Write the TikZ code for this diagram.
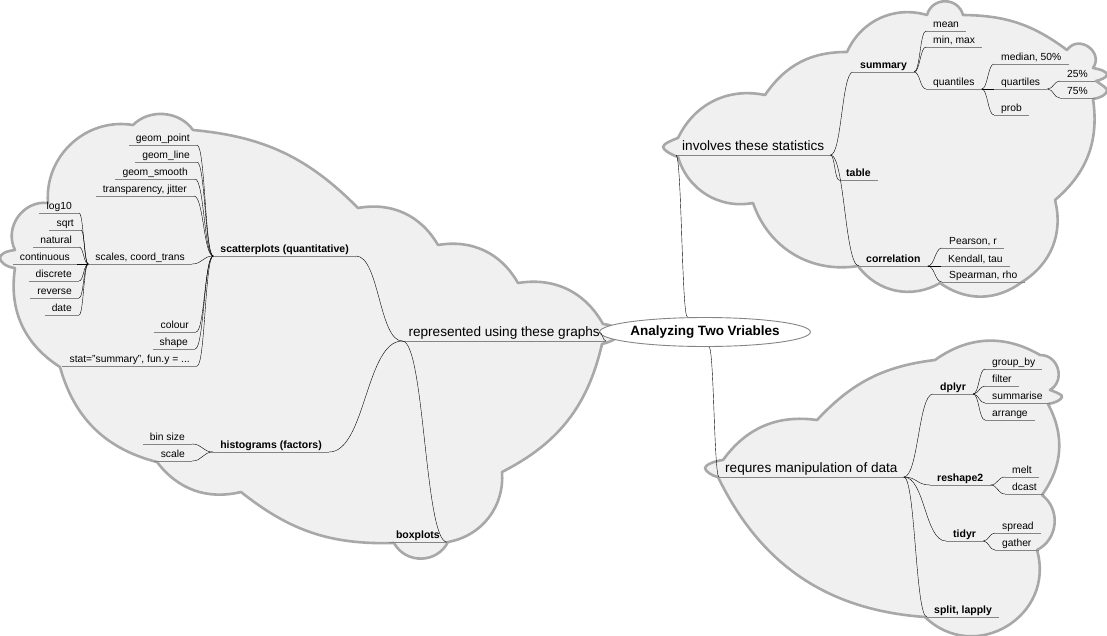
\documentclass[tikz,border=0pt]{standalone}
\usepackage{fontspec}
\setmainfont{Liberation Sans}
\usetikzlibrary{calc,shapes.geometric}
\definecolor{cloudline}{HTML}{A8A8A8}
\definecolor{cloudfill}{HTML}{F0F0F0}
\definecolor{edgec}{HTML}{858585}
\begin{document}
\begin{tikzpicture}[x=1pt,y=-1pt,
  cloud/.style={draw=cloudline,fill=cloudfill,line width=2.6pt,line join=round},
  lb/.style={bend left=#1},
  uline/.style={draw=edgec,line width=0.9pt},
  conn/.style={draw=edgec,line width=0.9pt,to path={let \p1=(\tikztostart), \p2=(\tikztotarget), \n1={(\x2-\x1)/2}, \n2={(\x1-\x2)/2} in .. controls +(\n1,0pt) and +(\n2,0pt) .. (\tikztotarget)}},
  base/.style={inner xsep=7pt, inner ysep=1pt, text height=7.6pt, text depth=2.2pt,
     font=\fontsize{10.3}{12}\selectfont,
     append after command={\pgfextra{\let\mynode\tikzlastnode} (\mynode.south west) edge[uline] (\mynode.south east)}},
  bold/.style={base,font=\fontsize{10.5}{12}\bfseries},
  big/.style={base,inner xsep=6pt,text height=10pt,text depth=3pt,font=\fontsize{13.6}{16}\selectfont},
  ls/.style={anchor=south east},
  rs/.style={anchor=south west},
  root/.style={ellipse,draw=edgec,line width=0.9pt,fill=white,minimum width=176pt,minimum height=29pt,inner sep=0pt,font=\fontsize{13.5}{16}\bfseries}
]
\useasboundingbox (0,0) rectangle (1107,635);

% ---------- clouds ----------
\draw[cloud] (48,203)
  to[lb=52,looseness=1.05] (133,125)
  to[lb=50] (193,130)
  to[lb=20] (358,208)
  to[lb=35] (438,245)
  to[lb=35] (518,283)
  to[lb=35] (603,324)
  .. controls (618,325) and (630,337) .. (602,344)
  to[lb=25] (502,472)
  to[lb=42] (448,542)
  to[lb=62,looseness=1.15] (394,543)
  to[lb=20] (241,492)
  to[lb=33] (157,462)
  to[lb=30] (60,367)
  to[lb=33] (15,268)
  .. controls (6,267) and (0,262) .. (0,258) .. controls (0,254) and (6,251) .. (15,250)
  to[lb=62,looseness=1.12] (48,203)
  -- cycle;

\draw[cloud] (678,138)
  to[lb=38] (765,95)
  to[lb=28] (847,52)
  to[lb=41] (927,15)
  to[lb=75,looseness=1.35] (963,15)
  to[lb=18] (1067,50)
  to[lb=90,looseness=1.6] (1093,68)
  .. controls (1100,69) and (1108,72) .. (1107,75) .. controls (1106,78) and (1100,80) .. (1096,81)
  .. controls (1100,84) and (1108,88) .. (1107,91) .. controls (1106,95) and (1100,98) .. (1093,99)
  to[lb=29] (1055,200)
  to[lb=36] (1022,282)
  to[lb=36] (940,283)
  to[lb=42] (858,266)
  to[lb=40] (753,203)
  to[lb=42] (678,157)
  .. controls (672,155) and (663,150) .. (663,147) .. controls (663,144) and (672,140) .. (678,138)
  -- cycle;

\draw[cloud] (723,460)
  to[lb=31] (817,420)
  to[lb=20] (935,360)
  to[lb=33] (1040,355)
  to[lb=75,looseness=1.3] (1050,390)
  .. controls (1056,392) and (1063,395) .. (1062,397) .. controls (1061,400) and (1055,403) .. (1048,404)
  to[lb=32] (1042,495)
  to[lb=58,looseness=1.1] (1037,550)
  to[lb=75,looseness=1.35] (925,617)
  to[lb=30] (718,477)
  .. controls (712,476) and (705,471) .. (705,468) .. controls (705,465) and (714,461) .. (723,460)
  -- cycle;

% ---------- root ----------
\node[root] (root) at (705,332) {Analyzing Two Vriables};

% ---------- left tree ----------
\node[big,ls] (repr) at (606,341) {represented using these graphs};
\node[bold,ls] (scat) at (356,256) {scatterplots (quantitative)};
\node[bold,ls] (hist) at (329,452) {histograms (factors)};
\node[bold,ls] (boxp) at (447,542) {boxplots};

\node[base,ls] (gpoint) at (197,145) {geom\_point};
\node[base,ls] (gline) at (197,162) {geom\_line};
\node[base,ls] (gsmooth) at (195,179) {geom\_smooth};
\node[base,ls] (transp) at (194,196) {transparency, jitter};
\node[base,ls] (scales) at (192,264) {scales, coord\_trans};
\node[base,ls] (colour) at (196,332) {colour};
\node[base,ls] (shape) at (195,349) {shape};
\node[base,ls] (stat) at (197,366) {stat="summary", fun.y = ...};

\node[base,ls] (log) at (79,213) {log10};
\node[base,ls] (sqrt) at (81,230) {sqrt};
\node[base,ls] (natural) at (79,247) {natural};
\node[base,ls] (contin) at (77,264) {continuous};
\node[base,ls] (discrete) at (79,281) {discrete};
\node[base,ls] (reverse) at (79,298) {reverse};
\node[base,ls] (date) at (79,315) {date};

\node[base,ls] (bin) at (192,444) {bin size};
\node[base,ls] (hscale) at (192,461) {scale};

% ---------- upper right tree ----------
\node[big,rs] (invol) at (676,155) {involves these statistics};
\node[bold,rs] (summary) at (853,72) {summary};
\node[bold,rs] (table) at (839,180) {table};
\node[bold,rs] (correl) at (859,266) {correlation};
\node[base,rs] (mean) at (926,31) {mean};
\node[base,rs] (minmax) at (926,47) {min, max};
\node[base,rs] (quant) at (926,89) {quantiles};
\node[base,rs] (median) at (994,64) {median, 50\%};
\node[base,rs] (quart) at (994,89) {quartiles};
\node[base,rs] (prob) at (994,115) {prob};
\node[base,rs] (qa) at (1060,81) {25\%};
\node[base,rs] (qb) at (1060,98) {75\%};
\node[base,rs] (pearson) at (942,248) {Pearson, r};
\node[base,rs] (kendall) at (941,266) {Kendall, tau};
\node[base,rs] (spearman) at (942,282) {Spearman, rho};

% ---------- lower right tree ----------
\node[big,rs] (requ) at (719,477) {requres manipulation of data};
\node[bold,rs] (dplyr) at (933,394) {dplyr};
\node[bold,rs] (reshape) at (930,485) {reshape2};
\node[bold,rs] (tidyr) at (946,541) {tidyr};
\node[bold,rs] (split) at (927,617) {split, lapply};
\node[base,rs] (groupby) at (985,369) {group\_by};
\node[base,rs] (filter) at (985,386) {filter};
\node[base,rs] (summarise) at (985,403) {summarise};
\node[base,rs] (arrange) at (985,420) {arrange};
\node[base,rs] (melt) at (1005,477) {melt};
\node[base,rs] (dcast) at (1005,494) {dcast};
\node[base,rs] (spread) at (995,533) {spread};
\node[base,rs] (gather) at (995,550) {gather};

% ---------- connectors ----------
\draw (root.west) to[conn] (repr.south east);
\draw (root.140) to[conn] (invol.south west);
\draw (root.-75) to[conn] (requ.south west);

\foreach \c in {scat,hist,boxp} \draw (repr.south west) to[conn] (\c.south east);
\foreach \c in {gpoint,gline,gsmooth,transp,scales,colour,shape,stat} \draw (scat.south west) to[conn] (\c.south east);
\foreach \c in {log,sqrt,natural,contin,discrete,reverse,date} \draw (scales.south west) to[conn] (\c.south east);
\foreach \c in {bin,hscale} \draw (hist.south west) to[conn] (\c.south east);

\foreach \c in {summary,table,correl} \draw (invol.south east) to[conn] (\c.south west);
\foreach \c in {mean,minmax,quant} \draw (summary.south east) to[conn] (\c.south west);
\foreach \c in {median,quart,prob} \draw (quant.south east) to[conn] (\c.south west);
\foreach \c in {qa,qb} \draw (quart.south east) to[conn] (\c.south west);
\foreach \c in {pearson,kendall,spearman} \draw (correl.south east) to[conn] (\c.south west);

\foreach \c in {dplyr,reshape,tidyr,split} \draw (requ.south east) to[conn] (\c.south west);
\foreach \c in {groupby,filter,summarise,arrange} \draw (dplyr.south east) to[conn] (\c.south west);
\foreach \c in {melt,dcast} \draw (reshape.south east) to[conn] (\c.south west);
\foreach \c in {spread,gather} \draw (tidyr.south east) to[conn] (\c.south west);
\end{tikzpicture}
\end{document}
